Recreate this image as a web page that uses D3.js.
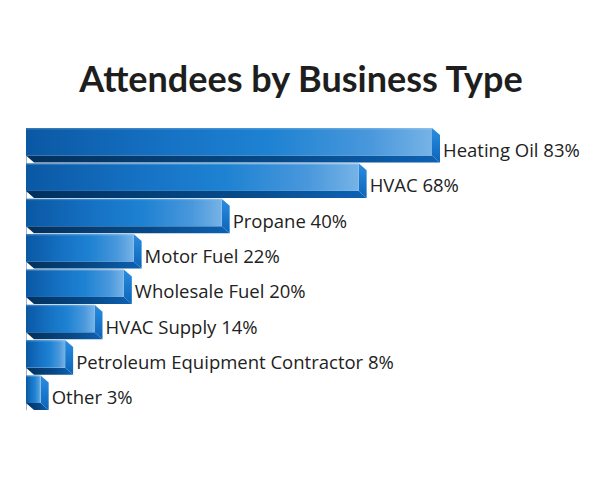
<!DOCTYPE html>
<html>
<head>
<meta charset="utf-8">
<script src="https://cdn.jsdelivr.net/npm/d3@7"></script>
<style>
  html, body { margin: 0; padding: 0; background: #ffffff; }
  svg { display: block; }
</style>
</head>
<body>
<svg id="chart" width="600" height="480"></svg>
<script>
const categories = ["Heating Oil", "HVAC", "Propane", "Motor Fuel", "Wholesale Fuel", "HVAC Supply", "Petroleum Equipment Contractor", "Other"];
const values = [83, 68, 40, 22, 20, 14, 8, 3];
const title = "Attendees by Business Type";

const data = categories.map((c, i) => ({ cat: c, val: values[i] }));

const svg = d3.select("#chart");
const W = 600, H = 480;
const left = 26;
const dx = 8, dy = 7;   // 3D extrusion depth

const x = d3.scaleLinear().domain([0, d3.max(values)]).range([left, 432]);
const y = d3.scaleBand().domain(categories).range([128, 403]).paddingInner(0.22).paddingOuter(0).align(0);

const defs = svg.append("defs");
const gFront = defs.append("linearGradient").attr("id", "front").attr("x1", 0).attr("x2", 1).attr("y1", 0).attr("y2", 0);
[[0, "#0a58a4"], [0.35, "#1672c4"], [0.6, "#1e82d2"], [0.85, "#4a98dc"], [1, "#76b3e6"]]
  .forEach(([o, c]) => gFront.append("stop").attr("offset", o).attr("stop-color", c));
const gBottom = defs.append("linearGradient").attr("id", "bottom").attr("x1", 0).attr("x2", 1).attr("y1", 0).attr("y2", 0);
[[0, "#03305c"], [0.6, "#074987"], [1, "#0d62b4"]]
  .forEach(([o, c]) => gBottom.append("stop").attr("offset", o).attr("stop-color", c));
const gSide = defs.append("linearGradient").attr("id", "side").attr("x1", 0).attr("x2", 0).attr("y1", 0).attr("y2", 1);
[[0, "#2a8ee2"], [1, "#0c64b8"]]
  .forEach(([o, c]) => gSide.append("stop").attr("offset", o).attr("stop-color", c));

// Title
svg.append("text")
  .attr("x", 301).attr("y", 92)
  .attr("text-anchor", "middle")
  .attr("font-family", "Lato, 'Open Sans', sans-serif")
  .attr("font-weight", 700)
  .attr("font-size", 36)
  .attr("fill", "#1e1e1e")
  .text(title);

// axis line
svg.append("line")
  .attr("x1", left + 0.5).attr("x2", left + 0.5)
  .attr("y1", y.range()[0]).attr("y2", y.range()[1] + 7)
  .attr("stroke", "#9fb4cc").attr("stroke-width", 1);

const bars = svg.append("g").selectAll("g").data(data).join("g");

const bh = y.bandwidth();

// bottom face
bars.append("path")
  .attr("fill", "url(#bottom)")
  .attr("d", d => {
    const x0 = x(0), x1 = x(d.val), yb = y(d.cat) + bh;
    return `M${x0},${yb}L${x1},${yb}L${x1 + dx},${yb + dy}L${x0 + dx},${yb + dy}Z`;
  });

// right side face
bars.append("path")
  .attr("fill", "url(#side)")
  .attr("d", d => {
    const x1 = x(d.val), y0 = y(d.cat), yb = y0 + bh;
    return `M${x1},${y0}L${x1 + dx},${y0 + dy}L${x1 + dx},${yb + dy}L${x1},${yb}Z`;
  });

// front face
bars.append("rect")
  .attr("x", x(0))
  .attr("y", d => y(d.cat))
  .attr("width", d => x(d.val) - x(0))
  .attr("height", bh)
  .attr("fill", "url(#front)");

// top highlight
bars.append("rect")
  .attr("x", x(0))
  .attr("y", d => y(d.cat))
  .attr("width", d => x(d.val) - x(0))
  .attr("height", 1.5)
  .attr("fill", "#ffffff").attr("opacity", 0.18);

// labels
bars.append("text")
  .attr("x", d => x(d.val) + dx + 3)
  .attr("y", d => y(d.cat) + 29)
  .attr("font-family", "'Open Sans', 'Noto Sans', sans-serif")
  .attr("font-size", 18.5)
  .attr("fill", "#222222")
  .text(d => `${d.cat} ${d.val}%`);
</script>
</body>
</html>
